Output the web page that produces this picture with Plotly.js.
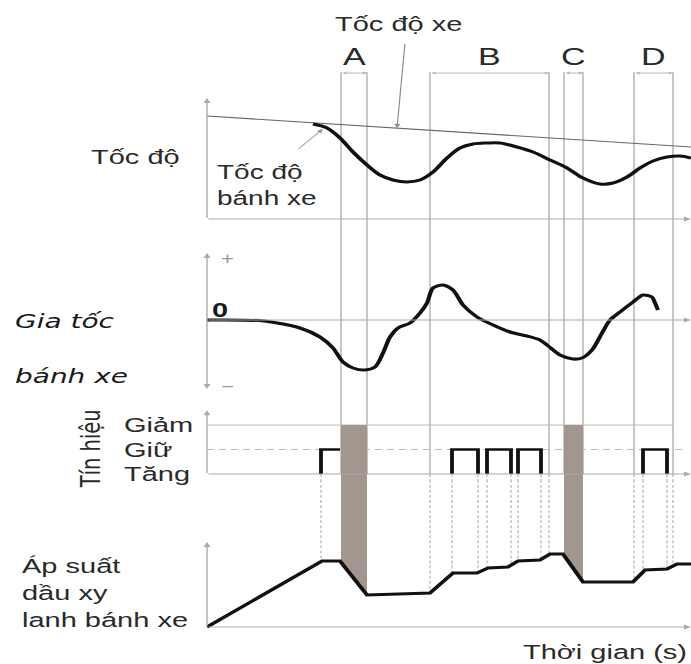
<!DOCTYPE html>
<html>
<head>
<meta charset="utf-8">
<script src="https://cdn.plot.ly/plotly-3.0.1.min.js"></script>
<style>
html, body { margin: 0; padding: 0; overflow: hidden; background: #fff; }
#wrap { width: 691px; height: 664px; overflow: hidden; position: relative; }
#plot { width: 691px; height: 922px; transform: scaleY(0.720174); transform-origin: 0 0; }
</style>
</head>
<body>
<div id="wrap"><div id="plot"></div></div>
<script>
// ---------------- data (time axis: arbitrary units from the origin) ----------------
const phaseLabels = ['A', 'B', 'C', 'D'];
const phaseStart  = [134, 223, 357, 427];
const phaseEnd    = [160, 342, 376, 466];

const vehicleT     = [0, 484];
const vehicleSpeed = [103, 72];

const wheelT     = [106, 120, 133, 146, 160, 173, 186, 200, 213, 226, 240, 253, 266, 280, 293, 310, 326, 343, 360, 376, 393, 406, 420, 433, 446, 460, 473, 484];
const wheelSpeed = [95, 91, 81, 67, 54, 44, 39, 37, 39, 47, 61, 71, 75, 76, 76, 72, 67, 59, 51, 41, 35, 36, 42, 51, 58, 62, 63, 61];

const accelT = [0, 57, 93, 113, 126, 136, 146, 158, 168, 176, 183, 191, 203, 213, 220, 226, 236, 246, 256, 270, 286, 303, 320, 333, 340, 353, 366, 375, 385, 395, 403, 413, 426, 436, 445, 448, 451];
const accel  = [0, -1, -8, -17, -28, -42, -48, -50, -47, -33, -17, -8, -3, 7, 17, 32, 35, 30, 15, 3, -5, -12, -16, -20, -25, -35, -39, -38, -30, -13, 0, 8, 18, 25, 23, 17, 10];

const signalLevels  = ['Tăng', 'Giữ', 'Giảm'];   // levels 0, 1, 2
const holdStart     = [114, 245, 280, 311, 436];
const holdEnd       = [133, 271, 304, 334, 460];
const decreaseStart = [134, 357];
const decreaseEnd   = [160, 376];

const pressureT = [0, 115, 133, 160, 223, 246, 270, 281, 301, 311, 333, 343, 356, 376, 426, 438, 460, 470, 484];
const pressure  = [0, 66, 66, 32, 34, 54, 54, 59, 60, 66, 67, 73, 73, 45, 45, 57, 58, 63, 63];

// ---------------- helpers ----------------
const W = 691, VH = 664;
const px = v => v / W;          // paper x from visual pixel
const py = v => 1 - v / VH;     // paper y from visual pixel
function interp(ts, vs, t) {
  if (t <= ts[0]) return vs[0];
  for (let i = 1; i < ts.length; i++) {
    if (t <= ts[i]) {
      const f = (t - ts[i - 1]) / (ts[i] - ts[i - 1]);
      return vs[i - 1] + f * (vs[i] - vs[i - 1]);
    }
  }
  return vs[vs.length - 1];
}
const pressureAt = t => interp(pressureT, pressure, t);

const BLACK = '#111111';
const GUIDE = '#b9b9b9';
const AXIS = '#ababab';
const FILL = '#a2968f';
const TXT = '#2a2a2a';
const LW = 4.2;

const hidden = { showgrid: false, zeroline: false, showticklabels: false, showline: false, ticks: '', fixedrange: true };

const layout = {
  width: 691, height: 922,
  margin: { l: 0, r: 0, t: 0, b: 0 },
  paper_bgcolor: '#ffffff', plot_bgcolor: 'rgba(0,0,0,0)',
  showlegend: false,
  font: { family: 'Liberation Sans, Arial, sans-serif', size: 29, color: TXT },
  xaxis:  Object.assign({}, hidden, { domain: [px(207), 1], range: [0, 484], anchor: 'y4' }),
  yaxis:  Object.assign({}, hidden, { domain: [py(235), py(72)],  range: [-16, 147], anchor: 'x' }),
  yaxis2: Object.assign({}, hidden, { domain: [py(400), py(235)], range: [-80, 85], anchor: 'x' }),
  yaxis3: Object.assign({}, hidden, { domain: [py(480), py(400)], range: [-6 / 24.5, 74 / 24.5], anchor: 'x' }),
  yaxis4: Object.assign({}, hidden, { domain: [py(640), py(480)], range: [-13, 147], anchor: 'x' })
};

// ---------------- traces ----------------
const traces = [];
// gray "decrease" fill: signal panel part
decreaseStart.forEach((s, i) => {
  const e = decreaseEnd[i];
  traces.push({ type: 'scatter', mode: 'lines', xaxis: 'x', yaxis: 'y3',
    x: [s, e, e, s, s], y: [2, 2, -5, -5, 2],
    fill: 'toself', fillcolor: FILL, line: { width: 0, color: FILL }, hoverinfo: 'skip' });
  // pressure panel part, down to the pressure line
  const xs = [s, e, e], ys = [500, 500, pressureAt(e)];
  pressureT.filter(t => t > s && t < e).reverse().forEach(t => { xs.push(t); ys.push(pressureAt(t)); });
  xs.push(s, s); ys.push(pressureAt(s), 500);
  traces.push({ type: 'scatter', mode: 'lines', xaxis: 'x', yaxis: 'y4',
    x: xs, y: ys, fill: 'toself', fillcolor: FILL, line: { width: 0, color: FILL }, hoverinfo: 'skip' });
});

// vehicle speed
traces.push({ type: 'scatter', mode: 'lines', xaxis: 'x', yaxis: 'y',
  x: vehicleT, y: vehicleSpeed, line: { color: '#666666', width: 1.5 } });
// wheel speed
traces.push({ type: 'scatter', mode: 'lines', xaxis: 'x', yaxis: 'y',
  x: wheelT, y: wheelSpeed, line: { color: BLACK, width: LW, shape: 'spline', smoothing: 1 } });
// wheel acceleration
traces.push({ type: 'scatter', mode: 'lines', xaxis: 'x', yaxis: 'y2',
  x: accelT, y: accel, line: { color: BLACK, width: LW, shape: 'spline', smoothing: 0.8 } });
// hold pulses of the control signal
const pulseX = [], pulseY = [];
holdStart.forEach((s, i) => {
  const e = holdEnd[i];
  pulseX.push(s, s, e); pulseY.push(0, 1, 1);
  const intoDecrease = decreaseStart.some(d => Math.abs(d - e) <= 2);
  if (!intoDecrease) { pulseX.push(e); pulseY.push(0); }
  pulseX.push(null); pulseY.push(null);
});
traces.push({ type: 'scatter', mode: 'lines', xaxis: 'x', yaxis: 'y3',
  x: pulseX, y: pulseY, line: { color: BLACK, width: 3.8 }, connectgaps: false });
// wheel cylinder pressure
traces.push({ type: 'scatter', mode: 'lines', xaxis: 'x', yaxis: 'y4',
  x: pressureT, y: pressure, line: { color: BLACK, width: LW } });

// ---------------- shapes (guide lines) ----------------
const shapes = [];
const sigTop = layout.yaxis3.domain[1];
phaseStart.concat(phaseEnd).forEach(t => {
  shapes.push({ type: 'line', layer: 'below', xref: 'x', yref: 'paper', x0: t, x1: t, y0: py(72), y1: sigTop,
    line: { color: GUIDE, width: 1.6 } });
  shapes.push({ type: 'line', layer: 'below', xref: 'x', yref: 'y3', x0: t, x1: t, y0: 10, y1: 0,
    line: { color: GUIDE, width: 1.6 } });
});
const edgeTimes = [...new Set(holdStart.concat(holdEnd, phaseStart, phaseEnd))];
const dashedTimes = edgeTimes.filter(t => !decreaseStart.some((s, i) => t >= s - 1 && t <= decreaseEnd[i] + 1));
dashedTimes.forEach(t => {
  shapes.push({ type: 'line', layer: 'below', xref: 'x', yref: 'y3', x0: t, x1: t, y0: 0, y1: -5,
    line: { color: GUIDE, width: 1.3, dash: '4px,3px' } });
  shapes.push({ type: 'line', layer: 'below', xref: 'x', yref: 'y4', x0: t, x1: t, y0: 500, y1: pressureAt(t),
    line: { color: GUIDE, width: 1.3, dash: '4px,3px' } });
});
// signal level reference lines
shapes.push({ type: 'line', layer: 'below', xref: 'x', yref: 'y3', x0: 0, x1: phaseEnd[phaseEnd.length - 1], y0: 2, y1: 2,
  line: { color: GUIDE, width: 1.6 } });
shapes.push({ type: 'line', layer: 'below', xref: 'x', yref: 'y3', x0: 0, x1: 476, y0: 1, y1: 1,
  line: { color: GUIDE, width: 1.3, dash: '7px,5px' } });

// ---------------- annotations ----------------
const ann = [];
function arrow(x, y, ax, ay, yref, both, color, width) {
  return { x: x, y: y, ax: ax, ay: ay, xref: 'x', yref: yref, axref: 'x', ayref: yref, text: '',
    showarrow: true, arrowhead: 2, arrowsize: 1, arrowwidth: width || 1.4, arrowcolor: color || AXIS,
    arrowside: both ? 'end+start' : 'end', standoff: 0, startstandoff: 0 };
}
// axes with arrows
ann.push(arrow(0, 121, 0, 0, 'y'));
ann.push(arrow(484, 0, 0, 0, 'y'));
ann.push(arrow(0, 67, 0, -70, 'y2', true));
ann.push(arrow(484, 0, 0, 0, 'y2'));
ann.push(arrow(0, 2.6, 0, 0, 'y3'));
ann.push(arrow(484, 0, 0, 0, 'y3'));
ann.push(arrow(0, 85, 0, 0, 'y4'));
ann.push(arrow(484, 0, 0, 0, 'y4'));

// phase brackets and labels
phaseLabels.forEach((lab, i) => {
  ann.push({ x: phaseEnd[i], ax: phaseStart[i], xref: 'x', axref: 'x', y: py(73), yref: 'paper', ay: 0, ayref: 'pixel',
    text: '', showarrow: true, arrowhead: 2, arrowsize: 0.7, arrowwidth: 1.2, arrowcolor: GUIDE,
    arrowside: 'end+start', standoff: 0, startstandoff: 0 });
  ann.push({ x: (phaseStart[i] + phaseEnd[i]) / 2, xref: 'x', y: py(56), yref: 'paper', text: lab,
    showarrow: false, xanchor: 'center', yanchor: 'middle', font: { size: 34, color: TXT } });
});

// pointers
const vT = 190;
ann.push(arrow(vT, interp(vehicleT, vehicleSpeed, vT), 198, 176, 'y', false, '#8c8c8c', 1.2));
const wT = 116;
ann.push(arrow(wT, interp(wheelT, wheelSpeed, wT) - 2, 90, 69, 'y', false, '#9a9a9a', 1.2));

function label(text, x, y, opts) {
  return Object.assign({ x: x, y: y, xref: 'paper', yref: 'paper', text: text, showarrow: false,
    xanchor: 'left', yanchor: 'middle', align: 'left', font: { size: 29, color: TXT } }, opts || {});
}
ann.push(label('Tốc độ xe', px(398), py(24), { xanchor: 'center' }));
ann.push(label('Tốc độ', px(89), py(157)));
ann.push(label('Tốc độ<br>bánh xe', px(215), py(185), { font: { size: 28, color: TXT } }));
ann.push(label('Gia tốc', px(13), py(321), { font: { family: 'DejaVu Sans, sans-serif', style: 'italic', size: 28, color: '#1a1a1a' } }));
ann.push(label('bánh xe', px(13), py(376), { font: { family: 'DejaVu Sans, sans-serif', style: 'italic', size: 28, color: '#1a1a1a' } }));
ann.push(label('0', px(210), py(310), { font: { size: 29, color: '#1a1a1a', weight: 'bold' } }));
ann.push(label('+', px(219), py(259), { font: { size: 22, color: '#9a9a9a' } }));
ann.push(label('−', px(219), py(387), { font: { size: 22, color: '#9a9a9a' } }));
ann.push(label('Tín hiệu', px(90), py(449), { xanchor: 'center', textangle: -90,
  font: { family: 'DejaVu Sans, sans-serif', size: 27, color: TXT } }));
signalLevels.forEach((lv, i) => {
  ann.push({ x: px(122), xref: 'paper', y: i, yref: 'y3', text: lv, showarrow: false,
    xanchor: 'left', yanchor: 'middle', font: { size: 29, color: TXT } });
});
ann.push(label('Áp suất<br>dầu xy<br>lanh bánh xe', px(20), py(592)));
ann.push(label('Thời gian (s)', px(689), py(652), { xanchor: 'right' }));

layout.shapes = shapes;
layout.annotations = ann;

Plotly.newPlot('plot', traces, layout, { staticPlot: true, displayModeBar: false });
</script>
</body>
</html>
